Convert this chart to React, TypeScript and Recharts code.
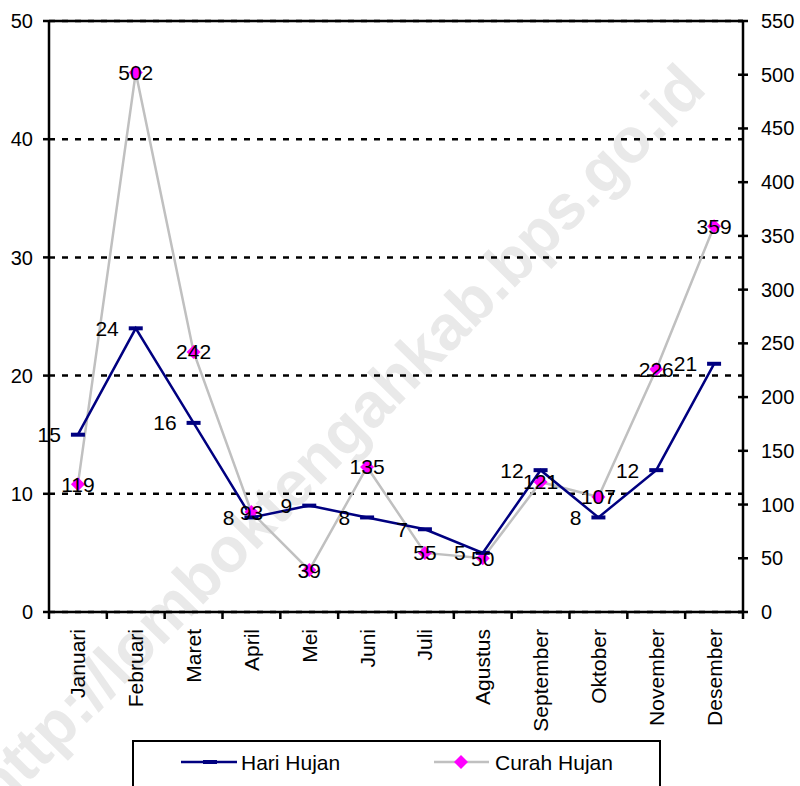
import React from 'react';
import {
  LineChart,
  Line,
  XAxis,
  YAxis,
  CartesianGrid,
  ReferenceLine,
  LabelList,
  Legend,
} from 'recharts';

const months = [
  'Januari', 'Februari', 'Maret', 'April', 'Mei', 'Juni',
  'Juli', 'Agustus', 'September', 'Oktober', 'November', 'Desember',
];
const hariHujan = [15, 24, 16, 8, 9, 8, 7, 5, 12, 8, 12, 21];
const curahHujan = [119, 502, 242, 93, 39, 135, 55, 50, 121, 107, 226, 359];
const leftTicks = [0, 10, 20, 30, 40, 50];
const rightTicks = [0, 50, 100, 150, 200, 250, 300, 350, 400, 450, 500, 550];

const data = months.map((m, i) => ({ month: m, hari: hariHujan[i], curah: curahHujan[i] }));

const FONT = '"Liberation Sans", Arial, sans-serif';
const NAVY = '#000080';
const GREY = '#c0c0c0';
const MAGENTA = '#ff00ff';

const XTick = (props: any) => {
  const { x, y, payload, width, visibleTicksCount, index } = props;
  const count = visibleTicksCount || months.length;
  const bw = width / count;
  const axisY = y - 17;
  return (
    <g>
      <line x1={x - bw / 2} x2={x - bw / 2} y1={axisY} y2={axisY + 7} stroke="#000" strokeWidth={2.5} />
      {index === count - 1 && (
        <line x1={x + bw / 2} x2={x + bw / 2} y1={axisY} y2={axisY + 7} stroke="#000" strokeWidth={2.5} />
      )}
      <text
        x={x}
        y={y}
        transform={`rotate(-90 ${x} ${y})`}
        textAnchor="end"
        dominantBaseline="central"
        fontSize={21}
        fontFamily={FONT}
        fill="#000"
      >
        {payload.value}
      </text>
    </g>
  );
};

const RTick = (props: any) => {
  const { x, y, payload } = props;
  return (
    <g>
      <line x1={x - 23} x2={x - 13} y1={y} y2={y} stroke="#000" strokeWidth={2.5} />
      <text x={x} y={y} dominantBaseline="central" fontSize={20} fontFamily={FONT} fill="#000">
        {payload.value}
      </text>
    </g>
  );
};

const Diamond = (props: any) => {
  const { cx, cy } = props;
  if (cx == null || cy == null) return null;
  return <path d={`M${cx},${cy - 7}L${cx + 7},${cy}L${cx},${cy + 7}L${cx - 7},${cy}Z`} fill={MAGENTA} />;
};

const Dash = (props: any) => {
  const { cx, cy } = props;
  if (cx == null || cy == null) return null;
  return <rect x={cx - 7} y={cy - 2} width={14} height={4} fill={NAVY} />;
};

const LegendBox = () => (
  <div
    style={{
      boxSizing: 'border-box',
      width: 529,
      height: 46,
      border: '2px solid #000',
      borderBottom: 'none',
      background: '#fff',
    }}
  >
    <svg width={525} height={44} style={{ display: 'block' }}>
      <line x1={47} x2={103} y1={20} y2={20} stroke={NAVY} strokeWidth={2.5} />
      <rect x={69} y={18} width={14} height={4} fill={NAVY} />
      <text x={107} y={20} dominantBaseline="central" fontSize={21} fontFamily={FONT} fill="#000">
        Hari Hujan
      </text>
      <line x1={300} x2={355} y1={20} y2={20} stroke={GREY} strokeWidth={2.5} />
      <path d="M327,13L334,20L327,27L320,20Z" fill={MAGENTA} />
      <text x={361} y={20} dominantBaseline="central" fontSize={21} fontFamily={FONT} fill="#000">
        Curah Hujan
      </text>
    </svg>
  </div>
);

export default function App() {
  return (
    <div style={{ position: 'absolute', left: 0, top: 0, width: 800, height: 786, overflow: 'hidden', background: '#fff' }}>
      <svg width={800} height={786} style={{ position: 'absolute', left: 0, top: 0 }}>
        <text
          x={338}
          y={436}
          transform="rotate(-45.5 338 436)"
          textAnchor="middle"
          dominantBaseline="central"
          fontSize={63}
          fontWeight="bold"
          fontFamily={FONT}
          fill="#e9e9e9"
        >
          http://lomboktengahkab.bps.go.id
        </text>
      </svg>
      <div style={{ position: 'absolute', left: 0, top: 0 }}>
        <LineChart
          width={800}
          height={786}
          data={data}
          margin={{ top: 21, right: 0, bottom: 0, left: 0 }}
          style={{ fontFamily: FONT }}
        >
          <CartesianGrid
            yAxisId="left"
            vertical={false}
            stroke="#000"
            strokeWidth={2.5}
            strokeDasharray="6 7"
          />
          <XAxis
            dataKey="month"
            scale="band"
            height={174}
            interval={0}
            tickLine={false}
            tickSize={0}
            tickMargin={17}
            axisLine={{ stroke: '#000', strokeWidth: 2.5 }}
            tick={<XTick />}
          />
          <YAxis
            yAxisId="left"
            width={49}
            domain={[0, 50]}
            ticks={leftTicks}
            interval={0}
            tickSize={6}
            tickMargin={10}
            tickLine={{ stroke: '#000', strokeWidth: 2.5 }}
            axisLine={{ stroke: '#000', strokeWidth: 2.5 }}
            tick={{ fill: '#000', fontSize: 20, fontFamily: FONT }}
          />
          <YAxis
            yAxisId="right"
            orientation="right"
            width={57}
            domain={[0, 550]}
            ticks={rightTicks}
            interval={0}
            tickSize={0}
            tickMargin={18}
            tickLine={false}
            axisLine={{ stroke: '#000', strokeWidth: 2.5 }}
            tick={<RTick />}
          />
          <ReferenceLine yAxisId="left" y={50} stroke="#000" strokeWidth={2.5} />
          <Line
            yAxisId="right"
            type="linear"
            dataKey="curah"
            name="Curah Hujan"
            stroke={GREY}
            strokeWidth={2.5}
            dot={<Diamond />}
            activeDot={false}
            isAnimationActive={false}
          >
            <LabelList dataKey="curah" position="center" fill="#000" fontSize={21} fontFamily={FONT} />
          </Line>
          <Line
            yAxisId="left"
            type="linear"
            dataKey="hari"
            name="Hari Hujan"
            stroke={NAVY}
            strokeWidth={2.5}
            dot={<Dash />}
            activeDot={false}
            isAnimationActive={false}
          >
            <LabelList dataKey="hari" position="left" offset={17} fill="#000" fontSize={21} fontFamily={FONT} />
          </Line>
          <Legend
            layout="horizontal"
            verticalAlign="middle"
            align="center"
            content={<LegendBox />}
            wrapperStyle={{ position: 'absolute', left: 132, top: 740, width: 529, height: 46, margin: 0 }}
          />
        </LineChart>
      </div>
    </div>
  );
}
